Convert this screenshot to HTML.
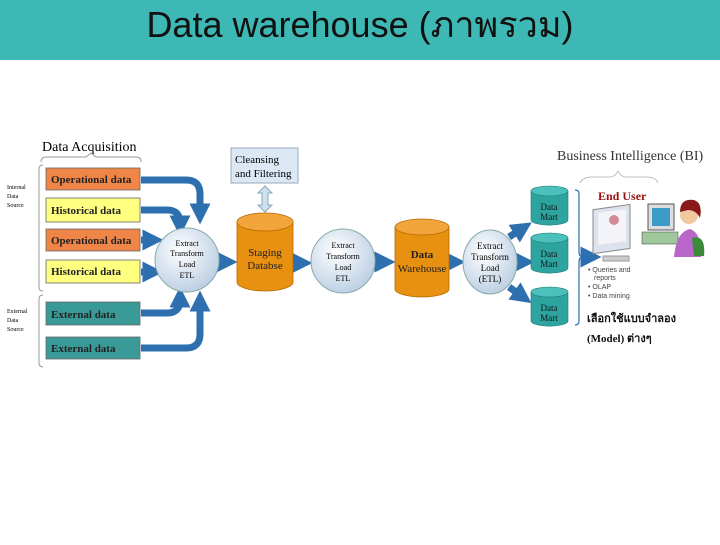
<!DOCTYPE html>
<html><head><meta charset="utf-8"><style>
body{margin:0;width:720px;height:540px;background:#fff;overflow:hidden}
</style></head><body>
<svg width="720" height="540" xmlns="http://www.w3.org/2000/svg" font-family="Liberation Serif, serif">
<defs>
<radialGradient id="cg" cx="0.4" cy="0.35" r="0.7"><stop offset="0" stop-color="#ffffff"/><stop offset="1" stop-color="#b9cde2"/></radialGradient>
<marker id="ah" markerWidth="3" markerHeight="3" refX="1.5" refY="1.5" orient="auto" markerUnits="strokeWidth"><path d="M0,0 L3,1.5 L0,3z" fill="#2e6fb0"/></marker>
</defs>
<rect x="0" y="0" width="720" height="60" fill="#3db8b5"/>
<text x="360" y="37" text-anchor="middle" font-family="Liberation Sans, 'Noto Sans CJK SC', sans-serif" font-size="36" fill="#111">Data warehouse (ภาพรวม)</text>

<text x="42" y="151" font-size="14">Data Acquisition</text>
<path d="M41,162 q0,-5 5,-5 h40 l5,-4 l5,4 h40 q5,0 5,5" fill="none" stroke="#999"/>
<path d="M43,165 q-4,0 -4,4 v118 q0,4 4,4 M43,295 q-4,0 -4,4 v64 q0,4 4,4" fill="none" stroke="#999"/>
<g font-size="6"><text x="7" y="189">Internal</text><text x="7" y="198">Data</text><text x="7" y="207">Source</text>
<text x="7" y="313">External</text><text x="7" y="322">Data</text><text x="7" y="331">Source</text></g>

<g font-size="11" font-weight="bold" stroke="#666" stroke-width="0.8">
<rect x="46" y="168" width="94" height="22" fill="#f08548"/>
<rect x="46" y="198" width="94" height="24" fill="#ffff80"/>
<rect x="46" y="229" width="94" height="22" fill="#f08548"/>
<rect x="46" y="260" width="94" height="23" fill="#ffff80"/>
<rect x="46" y="302" width="94" height="23" fill="#3a9a98"/>
<rect x="46" y="337" width="94" height="22" fill="#3a9a98"/>
</g>
<g font-size="11" font-weight="bold" fill="#222">
<text x="51" y="183">Operational data</text>
<text x="51" y="214">Historical data</text>
<text x="51" y="244">Operational data</text>
<text x="51" y="275">Historical data</text>
<text x="51" y="318">External data</text>
<text x="51" y="352">External data</text>
</g>

<g fill="none" stroke="#2e6fb0" stroke-width="7" marker-end="url(#ah)">
<path d="M141,180 h45 q14,0 14,14 v20"/>
<path d="M141,210 h26 q13,0 13,13 v3"/>
<path d="M141,240 h12"/>
<path d="M141,272 h12"/>
<path d="M141,313 h26 q13,0 13,-13 v-3"/>
<path d="M141,348 h45 q14,0 14,-14 v-33"/>
<path d="M220,262 h7"/>
<path d="M293,263 h9"/>
<path d="M376,262 h9"/>
<path d="M449,262 h6"/>
<path d="M509,237 l14,-9"/>
<path d="M518,262 h6"/>
<path d="M509,287 l14,10"/>
<path d="M581,257 h10"/>
</g>

<circle cx="187" cy="260" r="32" fill="url(#cg)" stroke="#8aa" />
<g font-size="8" text-anchor="middle"><text x="187" y="246">Extract</text><text x="187" y="256">Transform</text><text x="187" y="267">Load</text><text x="187" y="278">ETL</text></g>

<rect x="231" y="148" width="67" height="35" fill="#dce9f5" stroke="#9ab"/>
<text x="235" y="163" font-size="11">Cleansing</text><text x="235" y="177" font-size="11">and Filtering</text>
<path d="M265,186 l-7,7 h4 v12 h-4 l7,7 l7,-7 h-4 v-12 h4z" fill="#cfe0f0" stroke="#8ab"/>

<g stroke="#b86a00" stroke-width="0.8">
<path d="M237,222 v60 a28,9 0 0 0 56,0 v-60" fill="#e8900f"/>
<ellipse cx="265" cy="222" rx="28" ry="9" fill="#f2a53a"/>
<path d="M395,227 v62 a27,8 0 0 0 54,0 v-62" fill="#e8900f"/>
<ellipse cx="422" cy="227" rx="27" ry="8" fill="#f2a53a"/>
</g>
<g font-size="11" text-anchor="middle" fill="#222"><text x="265" y="256">Staging</text><text x="265" y="269">Databse</text>
<text x="422" y="258" font-weight="bold">Data</text><text x="422" y="272">Warehouse</text></g>

<circle cx="343" cy="261" r="32" fill="url(#cg)" stroke="#8aa"/>
<g font-size="8" text-anchor="middle"><text x="343" y="248">Extract</text><text x="343" y="259">Transform</text><text x="343" y="270">Load</text><text x="343" y="281">ETL</text></g>

<ellipse cx="490" cy="262" rx="27" ry="32" fill="url(#cg)" stroke="#8aa"/>
<g font-size="9" text-anchor="middle"><text x="490" y="249">Extract</text><text x="490" y="260">Transform</text><text x="490" y="271">Load</text><text x="490" y="282">(ETL)</text></g>

<g stroke="#1f7a76" stroke-width="0.6">
<path d="M531,191 v29 a18,5 0 0 0 37,0 v-29" fill="#2ea4a0"/><ellipse cx="549.5" cy="191" rx="18.5" ry="5" fill="#4cc0bb"/>
<path d="M531,238 v30 a18,5 0 0 0 37,0 v-30" fill="#2ea4a0"/><ellipse cx="549.5" cy="238" rx="18.5" ry="5" fill="#4cc0bb"/>
<path d="M531,292 v29 a18,5 0 0 0 37,0 v-29" fill="#2ea4a0"/><ellipse cx="549.5" cy="292" rx="18.5" ry="5" fill="#4cc0bb"/>
</g>
<g font-size="9" text-anchor="middle" fill="#111"><text x="549" y="210">Data</text><text x="549" y="220">Mart</text>
<text x="549" y="257">Data</text><text x="549" y="267">Mart</text>
<text x="549" y="311">Data</text><text x="549" y="321">Mart</text></g>
<path d="M575,190 q4,0 4,4 v58 q0,5 4,5 q-4,0 -4,5 v59 q0,4 -4,4" fill="none" stroke="#2e6fb0" stroke-width="1.2"/>

<text x="557" y="160" font-size="14" fill="#333">Business  Intelligence (BI)</text>
<path d="M580,183 q2,-5 10,-6 h20 q5,0 8,-6 q3,6 8,6 h20 q10,0 12,6" fill="none" stroke="#aaa" stroke-width="0.8"/>
<text x="598" y="200" font-size="12" font-weight="bold" fill="#9b1010">End User</text>
<g>
<rect x="593" y="208" width="37" height="44" fill="#dde3ee" stroke="#888" transform="skewY(-8) translate(0,85)"/>
<rect x="598" y="212" width="28" height="32" fill="#f4f4f8" transform="skewY(-8) translate(0,85)"/>
<circle cx="614" cy="220" r="5" fill="#d48a9a"/>
<rect x="603" y="256" width="26" height="5" fill="#ccc" stroke="#999"/>
<rect x="648" y="204" width="26" height="26" fill="#ddd" stroke="#555"/>
<rect x="652" y="208" width="18" height="18" fill="#3a9ac8"/>
<rect x="642" y="232" width="36" height="12" fill="#9fc79c" stroke="#555" stroke-width="0.6"/>
<circle cx="689" cy="215" r="9" fill="#f0c9a0"/>
<path d="M680,212 q0,-14 14,-12 q9,3 6,18 q-4,-8 -12,-8z" fill="#8a1a1a"/>
<path d="M674,257 q2,-25 16,-28 q12,4 11,28z" fill="#b866c8"/>
<path d="M692,238 q14,-4 12,18 h-10z" fill="#3a8a3a"/>
</g>
<g font-family="Liberation Sans, sans-serif" font-size="7" fill="#444">
<text x="588" y="272">• Queries and</text><text x="594" y="280">reports</text>
<text x="588" y="289">• OLAP</text><text x="588" y="298">• Data mining</text></g>
<g font-family="Liberation Serif, 'Noto Sans CJK SC', sans-serif" font-size="11" font-weight="bold" fill="#111">
<text x="587" y="322">เลือกใช้แบบจำลอง</text>
<text x="587" y="342">(Model) ต่างๆ</text></g>
</svg>
</body></html>
